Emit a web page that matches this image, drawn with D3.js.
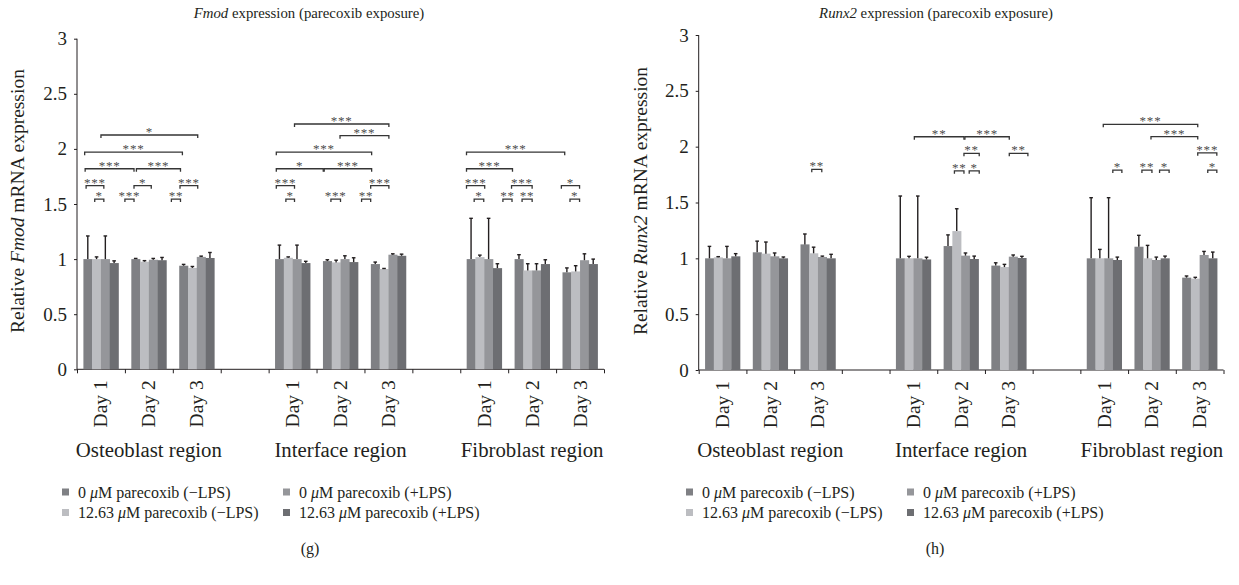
<!DOCTYPE html>
<html>
<head>
<meta charset="utf-8">
<script src="https://cdn.jsdelivr.net/npm/d3@7"></script>
<style>
  body { margin: 0; background: #fff; }
  text { font-family: "Liberation Serif", "Times New Roman", serif; fill: #231f20; }
  .br text { -webkit-font-smoothing: antialiased; }
</style>
</head>
<body>
<script>
// ---- data ----
var regions = ['Osteoblast region', 'Interface region', 'Fibroblast region'];
var days = ['Day 1', 'Day 2', 'Day 3'];
// bar order inside a day group
var seriesNames = ['0 \u03bcM parecoxib (\u2212LPS)', '12.63 \u03bcM parecoxib (\u2212LPS)',
                   '0 \u03bcM parecoxib (+LPS)', '12.63 \u03bcM parecoxib (+LPS)'];
var seriesColors = ['#7f8084', '#bcbdc1', '#95969a', '#6d6e72'];
var yTicks = [0, 0.5, 1, 1.5, 2, 2.5, 3];

// one row per region/day group (Osteo D1..D3, Interface D1..D3, Fibro D1..D3)
var fmodMean = [
  [1.00, 1.00, 1.00, 0.964], [1.00, 0.976, 0.994, 0.99], [0.94, 0.92, 1.02, 1.01],
  [1.00, 1.012, 1.00, 0.964], [0.982, 0.97, 1.00, 0.973], [0.955, 0.91, 1.04, 1.03],
  [1.00, 1.018, 1.00, 0.918], [1.00, 0.897, 0.897, 0.955], [0.88, 0.888, 0.99, 0.955]
];
var fmodSd = [
  [0.21, 0.02, 0.21, 0.02], [0.006, 0.01, 0.012, 0.025], [0.012, 0.013, 0.007, 0.05],
  [0.127, 0.008, 0.127, 0.016], [0.012, 0.02, 0.03, 0.039], [0.018, 0.005, 0.008, 0.015],
  [0.37, 0.018, 0.37, 0.04], [0.04, 0.061, 0.061, 0.039], [0.04, 0.052, 0.058, 0.045]
];
var runx2Mean = [
  [1.00, 1.009, 1.00, 1.018], [1.054, 1.042, 1.018, 1.00], [1.125, 1.045, 1.012, 1.00],
  [1.00, 1.00, 1.00, 0.99], [1.11, 1.244, 1.024, 0.994], [0.935, 0.922, 1.015, 1.003],
  [1.00, 1.00, 1.00, 0.985], [1.104, 1.00, 0.985, 1.00], [0.827, 0.818, 1.03, 1.00]
];
var runx2Sd = [
  [0.107, 0.006, 0.107, 0.024], [0.10, 0.104, 0.03, 0.012], [0.093, 0.055, 0.008, 0.036],
  [0.558, 0.018, 0.558, 0.02], [0.10, 0.20, 0.024, 0.026], [0.025, 0.024, 0.015, 0.015],
  [0.543, 0.08, 0.543, 0.026], [0.102, 0.116, 0.026, 0.02], [0.015, 0.012, 0.032, 0.056]
];

// significance brackets: [from, to] on the category axis (0..11), level in y units, label
var fmodBrackets = [
  [0.50, 2.52, 2.126, '*'], [0.16, 2.20, 1.97, '***'],
  [0.17, 1.19, 1.82, '***'], [1.24, 2.16, 1.82, '***'],
  [0.19, 0.56, 1.666, '***'], [1.19, 1.55, 1.666, '*'], [2.15, 2.52, 1.666, '***'],
  [0.37, 0.56, 1.545, '*'], [1.00, 1.19, 1.545, '***'], [1.97, 2.16, 1.545, '**'],
  [4.54, 6.51, 2.226, '***'], [5.49, 6.51, 2.12, '***'], [4.16, 6.15, 1.97, '***'],
  [4.16, 5.14, 1.82, '*'], [5.16, 6.15, 1.82, '***'],
  [4.16, 4.54, 1.666, '***'], [6.13, 6.51, 1.666, '***'],
  [4.36, 4.54, 1.545, '*'], [5.30, 5.50, 1.545, '***'], [5.94, 6.13, 1.545, '**'],
  [8.13, 10.18, 1.97, '***'], [8.13, 9.09, 1.82, '***'],
  [8.13, 8.51, 1.666, '***'], [9.07, 9.50, 1.666, '***'], [10.11, 10.49, 1.666, '*'],
  [8.29, 8.49, 1.545, '*'], [8.89, 9.08, 1.545, '**'], [9.29, 9.50, 1.545, '**'], [10.29, 10.49, 1.545, '*']
];
var runx2Brackets = [
  [2.37, 2.58, 1.797, '**'],
  [4.52, 5.56, 2.089, '**'], [5.58, 6.51, 2.089, '***'],
  [5.56, 5.88, 1.94, '**'], [6.51, 6.90, 1.94, '**'],
  [5.36, 5.56, 1.784, '**'], [5.67, 5.88, 1.784, '*'],
  [8.48, 10.46, 2.2, '***'], [9.48, 10.46, 2.09, '***'], [10.46, 10.86, 1.945, '***'],
  [8.68, 8.87, 1.79, '*'], [9.29, 9.50, 1.79, '**'], [9.66, 9.86, 1.79, '*'], [10.67, 10.86, 1.79, '*']
];

var svg = d3.select('body').append('svg')
    .attr('width', 1239)
    .attr('height', 585);

// category slots: 3 days, a blank slot, 3 days, a blank slot, 3 days
function groupPos(i) {
    var r = Math.floor(i / 3);
    return r * 4 + (i % 3);
}

drawPanel({
    gene: 'Fmod', caption: '(g)', mean: fmodMean, sd: fmodSd, brackets: fmodBrackets,
    x0: 77, x1: 604, y0: 369.3, y1: 38.7, yLabelX: 24, titleX: 309, legendX: 62, captionX: 310
});
drawPanel({
    gene: 'Runx2', caption: '(h)', mean: runx2Mean, sd: runx2Sd, brackets: runx2Brackets,
    x0: 698.7, x1: 1223.5, y0: 370, y1: 35, yLabelX: 647, titleX: 936, legendX: 686, captionX: 935
});

function drawPanel(p) {
    var g = svg.append('g');

    var x = d3.scaleLinear().domain([0, 11]).range([p.x0, p.x1]);
    var y = d3.scaleLinear().domain([0, 3]).range([p.y0, p.y1]);
    var inner = d3.scaleBand().domain(d3.range(4)).range([0, 1]).paddingOuter(0.73);

    // title
    var t = g.append('text')
        .attr('x', p.titleX).attr('y', 18)
        .attr('text-anchor', 'middle')
        .style('font-size', '14.8px');
    t.append('tspan').style('font-style', 'italic').text(p.gene);
    t.append('tspan').text(' expression (parecoxib exposure)');

    // y label
    var yl = g.append('text')
        .attr('transform', 'translate(' + [p.yLabelX, 201] + ')rotate(-90)')
        .attr('text-anchor', 'middle')
        .style('font-size', '19.5px');
    yl.append('tspan').text('Relative ');
    yl.append('tspan').style('font-style', 'italic').text(p.gene);
    yl.append('tspan').text(' mRNA expression');

    // y axis
    var yAxis = d3.axisLeft(y).tickValues(yTicks).tickSize(3).tickPadding(7)
        .tickFormat(d3.format('~g'));
    var ya = g.append('g')
        .attr('transform', 'translate(' + p.x0 + ',0)')
        .call(yAxis);
    ya.select('.domain').attr('stroke', '#231f20').attr('d', 'M0,' + p.y0 + 'V' + p.y1);
    ya.selectAll('.tick line').attr('stroke', '#231f20');
    ya.selectAll('text').style('font-size', '19px').style('font-family', '"Liberation Serif", serif')
        .attr('fill', '#231f20');

    // x axis
    var xAxis = d3.axisBottom(x).tickValues(d3.range(12)).tickSize(4).tickFormat('');
    var xa = g.append('g')
        .attr('transform', 'translate(0,' + p.y0 + ')')
        .call(xAxis);
    xa.select('.domain').attr('stroke', '#231f20').attr('d', 'M' + p.x0 + ',0H' + p.x1);
    xa.selectAll('.tick line').attr('stroke', '#231f20');

    // bars
    var rows = [];
    p.mean.forEach(function(m, i) {
        m.forEach(function(v, k) {
            rows.push({cat: groupPos(i), k: k, v: v, sd: p.sd[i][k]});
        });
    });
    var bw = x(inner.bandwidth()) - x(0);

    g.selectAll('.bar').data(rows).enter().append('rect')
        .attr('class', 'bar')
        .attr('x', function(d) { return x(d.cat + inner(d.k)); })
        .attr('y', function(d) { return y(d.v); })
        .attr('width', bw + 0.3)
        .attr('height', function(d) { return y(0) - y(d.v); })
        .attr('fill', function(d) { return seriesColors[d.k]; });

    var eb = g.selectAll('.err').data(rows).enter().append('g').attr('class', 'err');
    eb.append('line')
        .attr('x1', function(d) { return x(d.cat + inner(d.k)) + bw / 2; })
        .attr('x2', function(d) { return x(d.cat + inner(d.k)) + bw / 2; })
        .attr('y1', function(d) { return y(d.v); })
        .attr('y2', function(d) { return y(d.v + d.sd); })
        .attr('stroke', '#231f20').attr('stroke-width', 1.4);
    eb.append('line')
        .attr('x1', function(d) { return x(d.cat + inner(d.k)) + bw / 2 - 1.8; })
        .attr('x2', function(d) { return x(d.cat + inner(d.k)) + bw / 2 + 1.8; })
        .attr('y1', function(d) { return y(d.v + d.sd); })
        .attr('y2', function(d) { return y(d.v + d.sd); })
        .attr('stroke', '#231f20').attr('stroke-width', 1.4);

    // significance brackets (grouped with slight opacity so the stars render in plain grey)
    var brG = g.append('g').style('opacity', 0.99);
    var br = brG.selectAll('.br').data(p.brackets).enter().append('g').attr('class', 'br');
    br.append('path')
        .attr('d', function(d) {
            var a = x(d[0]), b = x(d[1]), l = y(d[2]);
            return 'M' + a + ',' + (l + 3) + 'V' + l + 'H' + b + 'V' + (l + 3);
        })
        .attr('fill', 'none').attr('stroke', '#333').attr('stroke-width', 1.3);
    br.append('text')
        .attr('x', function(d) { return (x(d[0]) + x(d[1])) / 2; })
        .attr('y', function(d) { return y(d[2]) + 1; })
        .attr('text-anchor', 'middle')
        .style('font-size', '13px')
        .style('letter-spacing', '0.8px')
        .style('fill', '#4a4a4a')
        .text(function(d) { return d[3]; });

    // day labels and region labels
    var dayRows = [];
    regions.forEach(function(r, ri) {
        days.forEach(function(dname, di) { dayRows.push({cat: ri * 4 + di, name: dname}); });
    });
    g.selectAll('.day').data(dayRows).enter().append('text')
        .attr('class', 'day')
        .attr('transform', function(d) {
            return 'translate(' + [x(d.cat + 0.5) + 6.5, p.y0 + 11] + ')rotate(-90)';
        })
        .attr('text-anchor', 'end')
        .style('font-size', '19.5px')
        .text(function(d) { return d.name; });

    g.selectAll('.region').data(regions).enter().append('text')
        .attr('class', 'region')
        .attr('x', function(d, i) { return x(i * 4 + 1.5); })
        .attr('y', 457)
        .attr('text-anchor', 'middle')
        .style('font-size', '20.8px')
        .text(function(d) { return d; });

    // legend (two columns)
    var legendOrder = [0, 2, 1, 3];
    var lg = g.selectAll('.lg').data(legendOrder).enter().append('g')
        .attr('class', 'lg')
        .attr('transform', function(d, i) {
            return 'translate(' + [p.legendX + (i % 2) * 221, 492 + Math.floor(i / 2) * 20.5] + ')';
        });
    lg.append('rect')
        .attr('x', 0).attr('y', -3.5).attr('width', 7).attr('height', 7)
        .attr('fill', function(d) { return seriesColors[d]; });
    lg.append('text')
        .attr('x', 16).attr('y', 5.5)
        .style('font-size', '16px')
        .each(function(d) {
            var parts = seriesNames[d].split('\u03bc');
            var s = d3.select(this);
            s.append('tspan').text(parts[0]);
            s.append('tspan').style('font-style', 'italic').text('\u03bc');
            s.append('tspan').text(parts[1]);
        });

    g.append('text')
        .attr('x', p.captionX).attr('y', 554)
        .attr('text-anchor', 'middle')
        .style('font-size', '16px')
        .text(p.caption);
}
</script>
</body>
</html>
